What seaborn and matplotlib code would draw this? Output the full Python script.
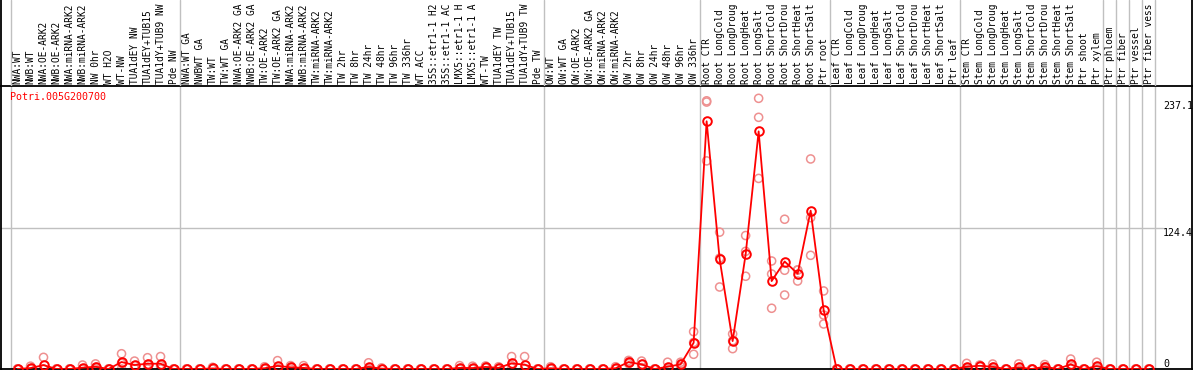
import numpy as np
import pandas as pd
import matplotlib
matplotlib.use("Agg")
import matplotlib.pyplot as plt
import seaborn as sns

gene = "Potri.005G200700"

# sample labels as visible in the chart header
group_nw = ["NWA:WT", "NWB:WT", "NWA:OE-ARK2", "NWB:OE-ARK2", "NWA:miRNA-ARK2",
            "NWB:miRNA-ARK2", "NW 0hr", "WT H2O", "WT-NW", "TUA1dEY NW",
            "TUA1dEY+TUB15", "TUA1dY+TUB9 NW", "Pde NW"]
group_tw = ["NWA:WT GA", "NWBWT GA", "TW:WT", "TW:WT GA", "NWA:OE-ARK2 GA",
            "NWB:OE-ARK2 GA", "TW:OE-ARK2", "TW:OE-ARK2 GA", "NWA:miRNA-ARK2",
            "NWB:miRNA-ARK2", "TW:miRNA-ARK2", "TW:miRNA-ARK2", "TW 2hr", "TW 8hr",
            "TW 24hr", "TW 48hr", "TW 96hr", "TW 336hr", "WT ACC", "35S::etr1-1 H2",
            "35S::etr1-1 AC", "LMX5::etr1-1 H", "LMX5::etr1-1 A", "WT-TW",
            "TUA1dEY TW", "TUA1dEY+TUB15", "TUA1dY+TUB9 TW", "Pde TW"]
group_ow = ["OW:WT", "OW:WT GA", "OW:OE-ARK2", "OW:OE-ARK2 GA", "OW:miRNA-ARK2",
            "OW:miRNA-ARK2", "OW 2hr", "OW 8hr", "OW 24hr", "OW 48hr", "OW 96hr",
            "OW 336hr"]
group_root = ["Root CTR", "Root LongCold", "Root LongDroug", "Root LongHeat",
              "Root LongSalt", "Root ShortCold", "Root ShortDrou", "Root ShortHeat",
              "Root ShortSalt", "Ptr root"]
group_leaf = ["Leaf CTR", "Leaf LongCold", "Leaf LongDroug", "Leaf LongHeat",
              "Leaf LongSalt", "Leaf ShortCold", "Leaf ShortDrou", "Leaf ShortHeat",
              "Leaf ShortSalt", "Ptr leaf"]
group_stem = ["Stem CTR", "Stem LongCold", "Stem LongDroug", "Stem LongHeat",
              "Stem LongSalt", "Stem ShortCold", "Stem ShortDrou", "Stem ShortHeat",
              "Stem ShortSalt", "Ptr shoot", "Ptr xylem"]
group_phloem = ["Ptr phloem"]
group_fiber = ["Ptr fiber"]
group_vessel = ["Ptr vessel"]
group_fv = ["Ptr fiber vess"]

groups = [group_nw, group_tw, group_ow, group_root, group_leaf, group_stem,
          group_phloem, group_fiber, group_vessel, group_fv]
categories = sum(groups, [])

# replicate values (three replicates per sample)
rep1 = [0, 2.5, 10.3, 0, 0, 3.5, 4.5, 0, 13.5, 7, 10, 11, 0,
        0, 0, 1.5, 0, 0, 0, 2, 7.4, 3, 3, 0, 0, 0, 0, 5.5, 1, 0, 0, 0, 0, 0, 3, 2.5, 2.7, 2, 11, 11, 0,
        2, 0, 0, 0, 0, 2, 7.6, 7, 0, 6, 6, 33,
        237.1, 121, 31, 118, 239.3, 95.5, 132.4, 87.5, 185.7, 69,
        0, 0, 0, 0, 0, 0, 0, 0, 0, 0,
        5, 3.5, 4.4, 0, 4.5, 0, 4, 0, 8.8, 0, 6,
        0, 0, 0, 0]
rep2 = [0, 0, 0, 0, 0, 0, 1.5, 0, 5, 3, 4, 3, 0,
        0, 0, 0, 0, 0, 0, 0, 0.8, 1.5, 0, 0, 0, 0, 0, 0, 0, 0, 0, 0, 0, 0, 0, 0, 1.8, 1, 3, 0.5, 0,
        0, 0, 0, 0, 0, 0, 6.2, 4, 0, 0, 4.5, 23.5,
        236, 98, 25, 104, 222.5, 84, 87.3, 87.6, 133.8, 47.7,
        0, 0, 0, 0, 0, 0, 0, 0, 0, 0,
        1, 3, 1.5, 0, 0, 0, 2, 0, 3.5, 0, 1.5,
        0, 0, 0, 0]
rep3 = [0, 0, 0, 0, 0, 0, 0, 0, 0, 0.5, 0, 0, 0,
        0, 0, 0, 0, 0, 0, 0, 0, 0, 0, 0, 0, 0, 0, 0, 0, 0, 0, 0, 0, 0, 0, 0, 1, 0, 1, 0, 0,
        0, 0, 0, 0, 0, 0, 4.7, 1.2, 0, 0, 2, 13,
        184, 72.5, 18, 82, 168.5, 53.7, 65.4, 77.8, 100.5, 39.8,
        0, 0, 0, 0, 0, 0, 0, 0, 0, 0,
        0, 2, 0, 0, 0, 0, 0, 0, 0, 0, 0,
        0, 0, 0, 0]

ytick_values = [0, 124.4, 237.1]
ytick_labels = ["0", "124.4", "237.1"]

n = len(categories)
df = pd.DataFrame({
    "idx": np.tile(np.arange(n), 3),
    "value": rep1 + rep2 + rep3,
})

sns.set_theme(style="white")
plt.rcParams["font.family"] = ["DejaVu Sans Mono"]

W, H = 1194, 370
fig = plt.figure(figsize=(W / 100, H / 100), dpi=100)
ax = fig.add_axes([1 / W, 1 / H, 1191 / W, 283 / H])
hx = fig.add_axes([1 / W, 284 / H, 1191 / W, 86 / H], sharex=ax)
hx.patch.set_visible(False)

FS = 6.85
grid_c = "#c0c0c0"

# group separators
bounds = [-0.5] + [c - 0.5 for c in np.cumsum([len(g) for g in groups])]
for b in bounds:
    ax.axvline(b, color=grid_c, lw=1.0, zorder=0)
    hx.axvline(b, color=grid_c, lw=1.0, zorder=0)

# replicates
sns.scatterplot(data=df, x="idx", y="value", ax=ax, marker="o", s=34,
                linewidth=1.1, zorder=2, legend=False)
coll = ax.collections[-1]
coll.set_facecolor("none")
coll.set_edgecolor("#ee9090")

# mean line
sns.lineplot(data=df, x="idx", y="value", estimator="mean", errorbar=None, ax=ax,
             color="red", lw=1.3, marker="o", markersize=6.2,
             markerfacecolor="none", markeredgecolor="red", markeredgewidth=1.4,
             zorder=3, legend=False)

ax.set_xlim(-1.27, 90.33)
ax.set_ylim(0, 250.2)
ax.axhline(124.4, xmin=0, xmax=1162 / 1191, color=grid_c, lw=1.0, zorder=0)

ax.set_xticks(np.arange(n))
ax.set_xticklabels(categories)
ax.xaxis.tick_top()
ax.tick_params(axis="x", top=True, bottom=False, labeltop=True, labelbottom=False,
               length=0, pad=1.2, labelsize=FS, labelrotation=90, colors="black")

ax.yaxis.tick_right()
ax.set_yticks(ytick_values)
ax.set_yticklabels(ytick_labels)
ax.tick_params(axis="y", length=0, pad=-29 * 0.72, labelsize=7.2, colors="black")
for lab, v in zip(ax.get_yticklabels(), ytick_values):
    lab.set_va("bottom" if v == 0 else "top")

ax.set_xlabel("")
ax.set_ylabel("")
ax.grid(False)
for s in ax.spines.values():
    s.set_color("black")
    s.set_linewidth(1.3)

hx.set_yticks([])
hx.tick_params(axis="x", length=0, labelbottom=False, labeltop=False)
hx.grid(False)
hx.spines["bottom"].set_visible(False)
hx.spines["top"].set_visible(False)
for s in ("left", "right"):
    hx.spines[s].set_color("black")
    hx.spines[s].set_linewidth(1.3)

ax.text(9 / 1191, 1 - 6 / 283, gene, transform=ax.transAxes, color="red",
        ha="left", va="top", fontsize=7.2)

fig.savefig("out.png", dpi=100)
